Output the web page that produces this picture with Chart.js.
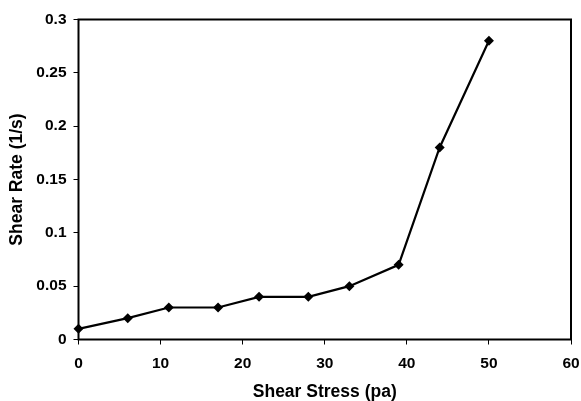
<!DOCTYPE html>
<html lang="en">
<head>
  <meta charset="UTF-8" />
  <title>Shear Rate vs Shear Stress</title>
  <script src="https://cdn.jsdelivr.net/npm/chart.js"></script>
  <style>
    html, body { margin: 0; padding: 0; background: #fff; }
    .wrap { width: 581px; height: 401px; }
  </style>
</head>
<body>
  <div class="wrap"><canvas id="chart" width="581" height="401"></canvas></div>

  <script>
    // data
    const shearStress = [0, 6, 11, 17, 22, 28, 33, 39, 44, 50];
    const shearRate = [0.01, 0.02, 0.03, 0.03, 0.04, 0.04, 0.05, 0.07, 0.18, 0.28];
    const xTitle = 'Shear Stress (pa)';
    const yTitle = 'Shear Rate (1/s)';

    const points = shearStress.map((x, i) => ({ x: x, y: shearRate[i] }));
    const font = 'Liberation Sans, Arial, sans-serif';

    // box around the plot area
    const frame = {
      id: 'frame',
      afterDatasetsDraw(chart) {
        const a = chart.chartArea, ctx = chart.ctx;
        ctx.save();
        ctx.strokeStyle = '#000';
        ctx.lineWidth = 2;
        ctx.strokeRect(a.left, a.top, a.right - a.left, a.bottom - a.top);
        ctx.restore();
      }
    };

    new Chart(document.getElementById('chart'), {
      type: 'scatter',
      data: {
        datasets: [{
          data: points,
          showLine: true,
          borderColor: '#000',
          backgroundColor: '#000',
          borderWidth: 2.2,
          pointStyle: 'rectRot',
          pointRadius: 5,
          pointBorderWidth: 0,
          tension: 0
        }]
      },
      options: {
        responsive: false,
        animation: false,
        clip: false,
        layout: { padding: { top: 19.5, right: 10, bottom: 0, left: 0 } },
        plugins: { legend: { display: false }, tooltip: { enabled: false } },
        scales: {
          x: {
            type: 'linear',
            min: 0, max: 60,
            afterFit: s => { s.height = 61.5; s.paddingLeft = 0; s.paddingRight = 0; },
            border: { display: false },
            grid: { drawOnChartArea: false, tickLength: 5, color: '#000', lineWidth: 1 },
            ticks: { stepSize: 10, color: '#000', padding: 10, maxRotation: 0,
                     font: { family: font, size: 15.5, weight: 'bold' } },
            title: { display: true, text: xTitle, color: '#000', padding: { top: 0, bottom: 0 },
                     font: { family: font, size: 17.5, weight: 'bold', lineHeight: 1 } }
          },
          y: {
            min: 0, max: 0.3,
            afterFit: s => { s.width = 78.5; s.paddingTop = 0; s.paddingBottom = 0; },
            border: { display: false },
            grid: { drawOnChartArea: false, tickLength: 5, color: '#000', lineWidth: 1 },
            ticks: { stepSize: 0.05, color: '#000', padding: 7,
                     callback: v => String(parseFloat(v.toFixed(2))),
                     font: { family: font, size: 15.5, weight: 'bold' } },
            title: { display: true, text: yTitle, color: '#000', padding: { top: 8, bottom: 0 },
                     font: { family: font, size: 17.5, weight: 'bold', lineHeight: 1 } }
          }
        }
      },
      plugins: [frame]
    });
  </script>
</body>
</html>
